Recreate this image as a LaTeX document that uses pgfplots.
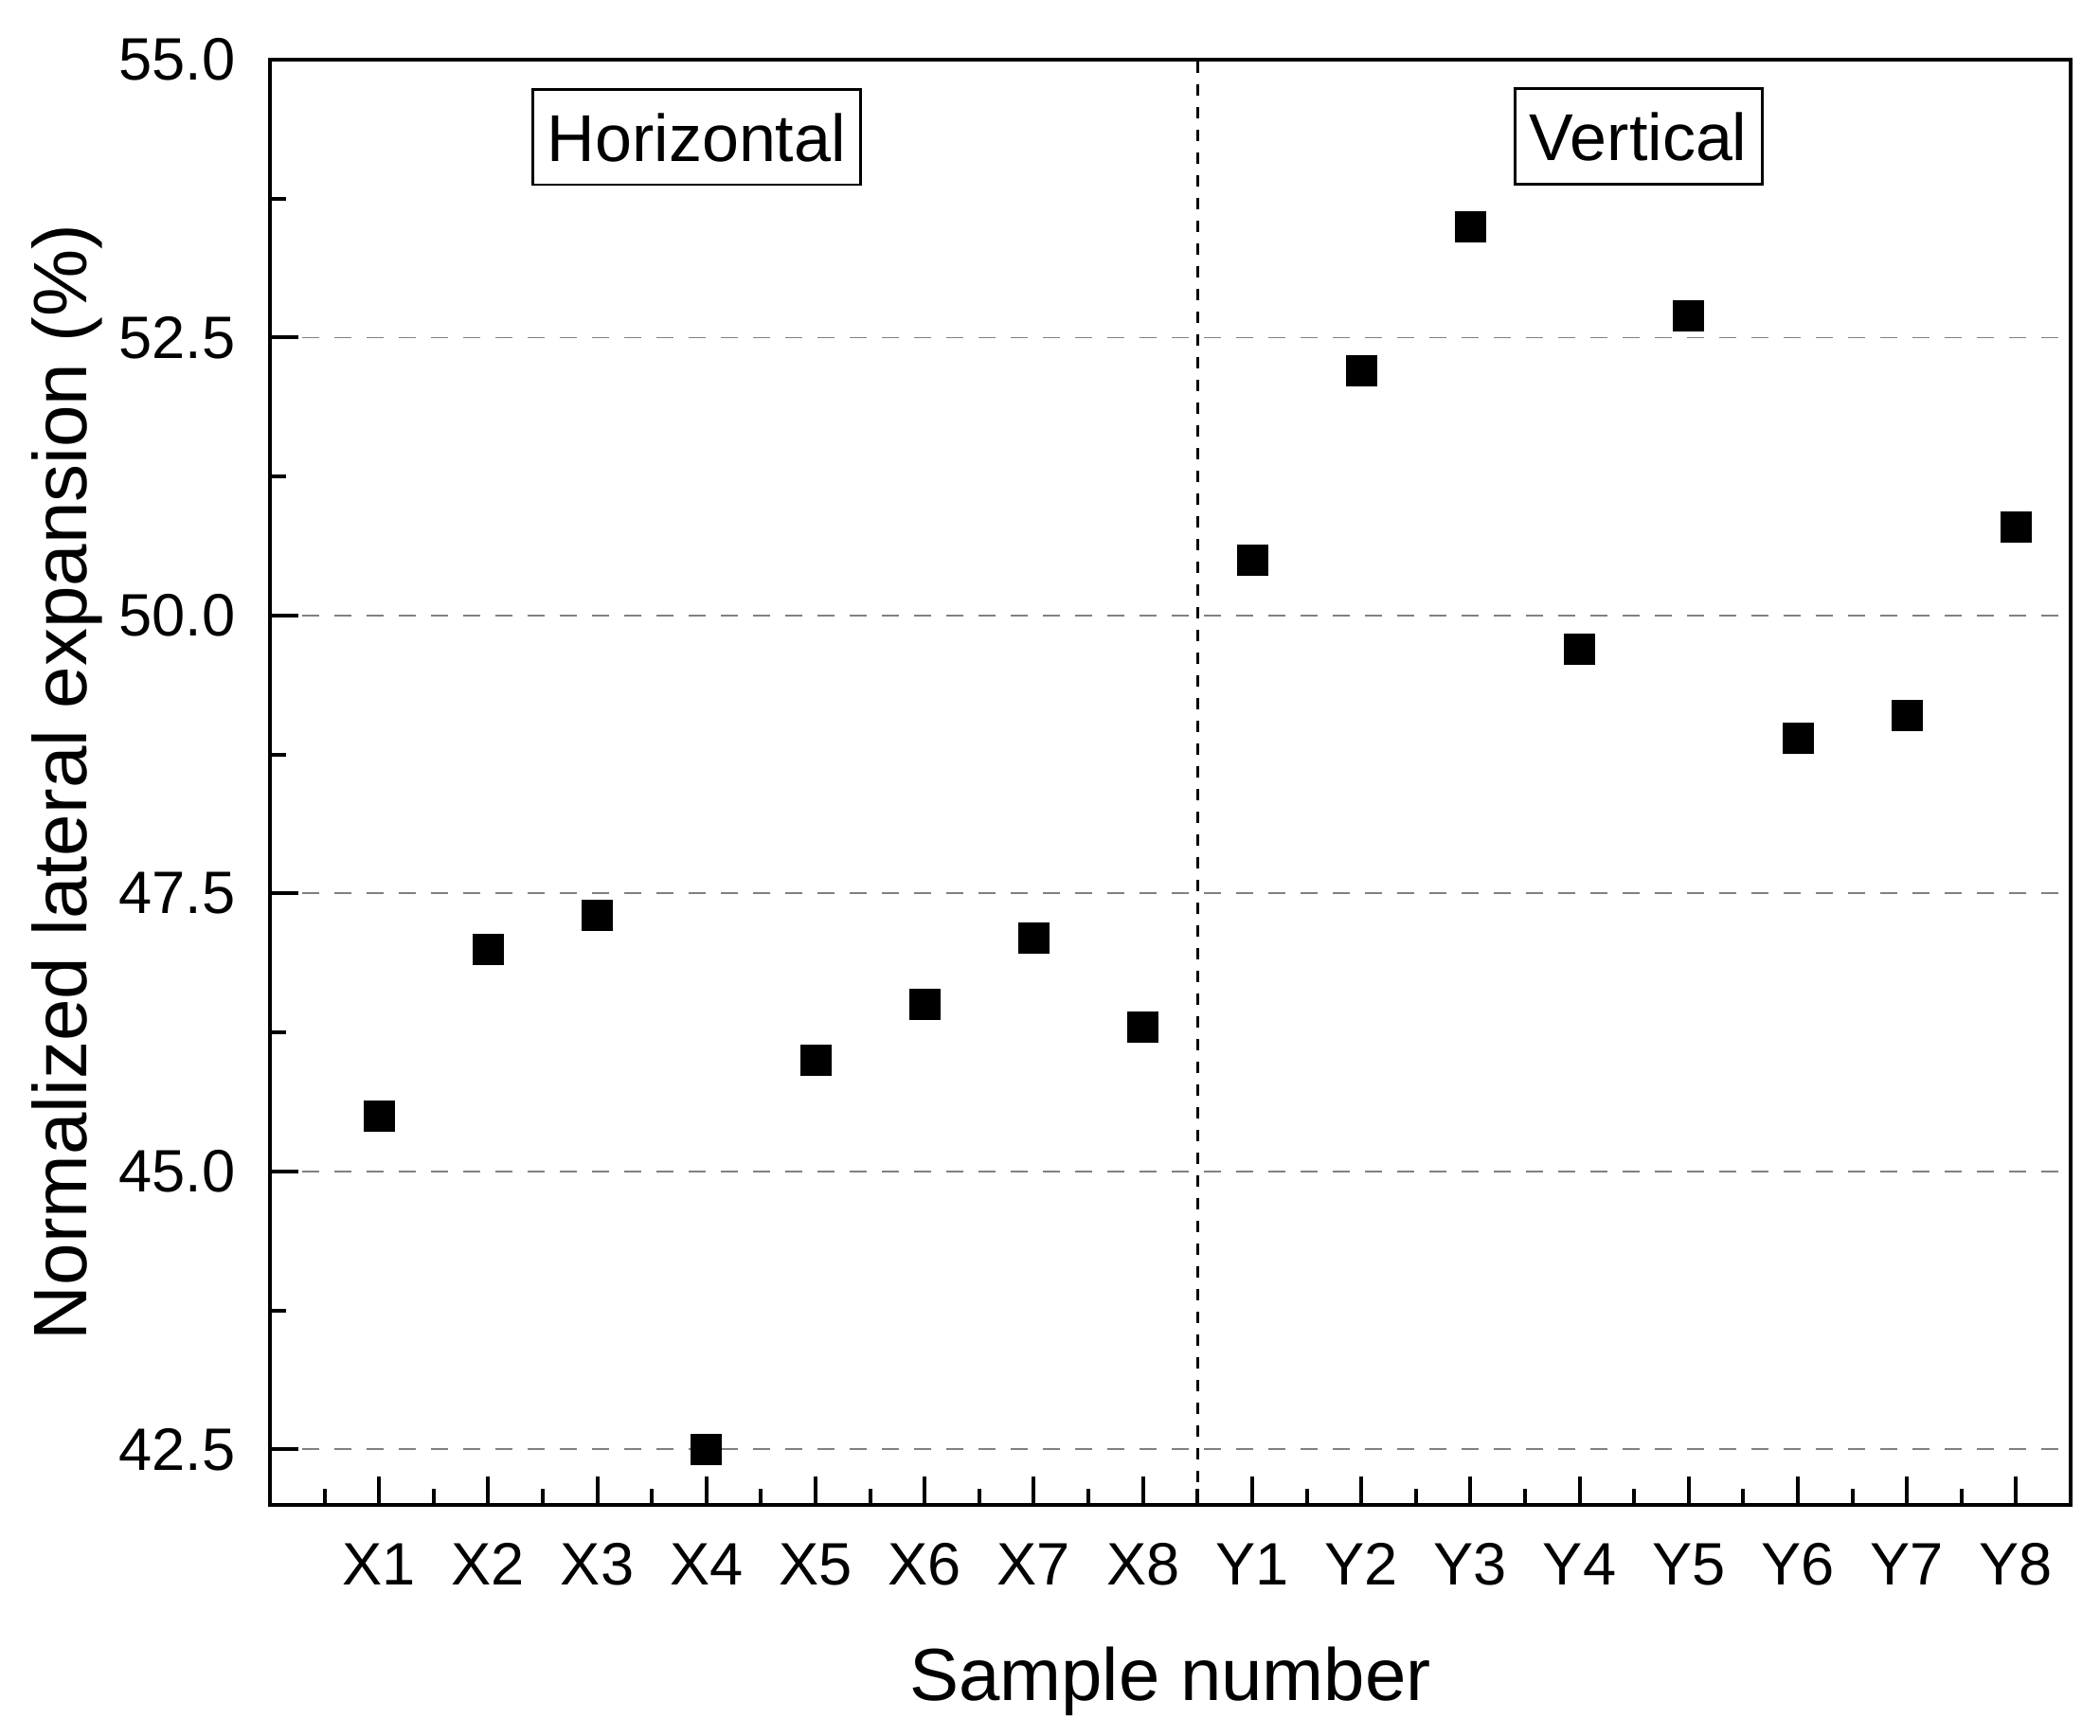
\documentclass[border=0pt]{standalone}
\usepackage{fontspec}
\setmainfont{Liberation Sans}
\usepackage{pgfplots}
\pgfplotsset{compat=1.18}
\begin{document}
\begin{tikzpicture}
\begin{axis}[
  name=ax,
  scale only axis,
  width=475.25pt, height=381.5pt,
  xmin=0, xmax=16.5, ymin=42, ymax=55,
  xtick={1,...,16},
  xticklabels={X1,X2,X3,X4,X5,X6,X7,X8,Y1,Y2,Y3,Y4,Y5,Y6,Y7,Y8},
  minor xtick={0.5,1.5,...,15.5},
  ytick={42.5,45,47.5,50,52.5,55},
  minor ytick={43.75,46.25,48.75,51.25,53.75},
  yticklabel style={/pgf/number format/fixed,/pgf/number format/fixed zerofill,/pgf/number format/precision=1,
     anchor=east, inner xsep=0pt, xshift=-9pt},
  /pgf/number format/assume math mode=true,
  tick pos=left,
  tick align=inside,
  major tick length=7.5pt,
  minor tick length=4.2pt,
  every tick/.style={black, line width=1pt},
  axis line style={line width=1.2pt},
  ymajorgrids,
  major grid style={gray, line width=0.45pt, dash pattern=on 4.5pt off 4pt},
  ticklabel style={font=\fontsize{15.8}{18}\selectfont},
  xticklabel style={anchor=base, yshift=-21pt},
  xlabel={Sample number},
  ylabel={Normalized lateral expansion (\%)},
  xlabel style={font=\fontsize{19.5}{23}\selectfont, at={(axis description cs:0.5,0)}, anchor=base, yshift=-51.5pt},
  ylabel style={font=\fontsize{20}{24}\selectfont, at={([xshift=-48.25pt]axis description cs:0,0.5)}, anchor=base, rotate=0},
  clip=false,
]
\addplot[draw=none, mark=square*, mark size=4pt, mark options={black, fill=black, line width=0.2pt}]
  coordinates {
  (1,45.5) (2,47.0) (3,47.3) (4,42.5) (5,46.0) (6,46.5) (7,47.1) (8,46.3)
  (9,50.5) (10,52.2) (11,53.5) (12,49.7) (13,52.7) (14,48.9) (15,49.1) (16,50.8)
  };
\draw[black, line width=0.6pt, dash pattern=on 3pt off 3pt] (axis cs:8.5,42) -- (axis cs:8.5,55);
\node[draw, line width=0.7pt, inner xsep=3.9pt, inner ysep=6.1pt, text height=13pt, text depth=0pt,
  font=\fontsize{17.5}{20}\selectfont] at (axis cs:3.909,54.305) {Horizontal};
\node[draw, line width=0.7pt, inner xsep=3.9pt, inner ysep=6.1pt, text height=13pt, text depth=0pt,
  font=\fontsize{17.5}{20}\selectfont] at (axis cs:12.54,54.31) {Vertical};
\end{axis}
\pgfresetboundingbox
\useasboundingbox ([xshift=-71.25pt,yshift=-60.75pt]ax.south west) rectangle ([xshift=7.75pt,yshift=15.75pt]ax.north east);
\end{tikzpicture}
\end{document}
